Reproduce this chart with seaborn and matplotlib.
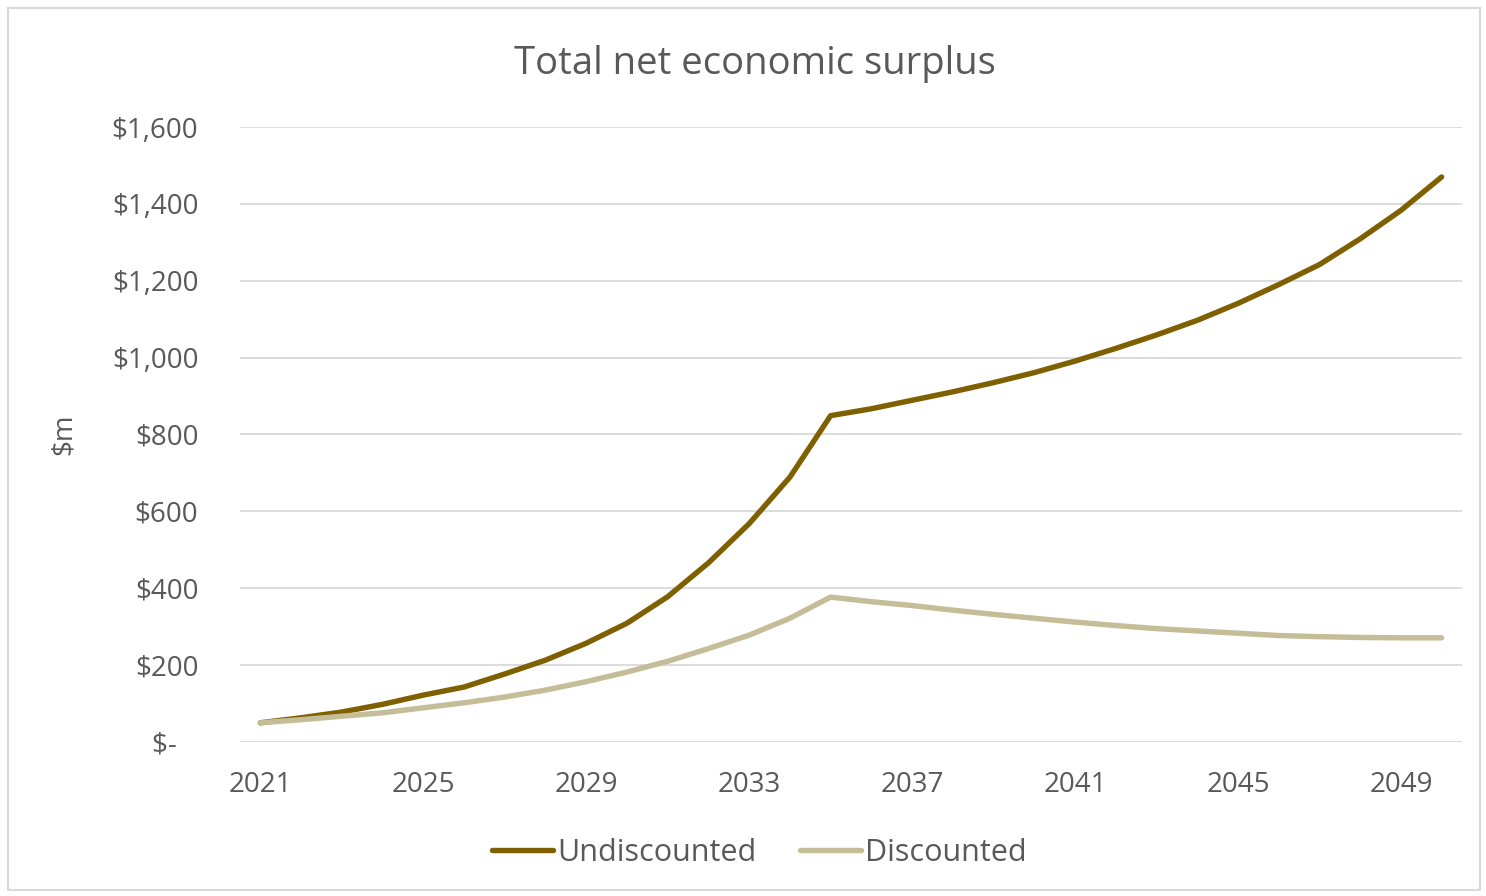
"""Total net economic surplus — undiscounted vs discounted ($m), 2021-2050"""

import numpy as np
import pandas as pd
import matplotlib.pyplot as plt
import seaborn as sns
from matplotlib.patches import Rectangle
from matplotlib.ticker import FuncFormatter


years = list(range(2021, 2051))

undiscounted = [50, 63, 78, 98, 122, 143, 177, 213, 257, 309,
                378, 466, 568, 689, 849, 867, 889, 911, 935, 961,
                991, 1024, 1059, 1097, 1141, 1190, 1242, 1309, 1383, 1470]

discounted = [50, 58, 67, 76, 89, 102, 117, 135, 157, 182,
              210, 243, 278, 322, 377, 365, 355, 343, 332, 322,
              312, 303, 295, 289, 283, 277, 274, 272, 271, 271]

series_names = ['Undiscounted', 'Discounted']
series_colors = ['#7F6000', '#C4BD97']
y_ticks = [0, 200, 400, 600, 800, 1000, 1200, 1400, 1600]
x_ticks = [2021, 2025, 2029, 2033, 2037, 2041, 2045, 2049]

TEXT = '#595959'
GRID = '#D9D9D9'


def money(v, pos):
    # Excel accounting style: zero shows as a dash, padded on the right
    if v == 0:
        return '$-   '
    return f'${v:,.0f}'


df = pd.DataFrame({
    'year': years * 2,
    'value': undiscounted + discounted,
    'series': [series_names[0]] * len(years) + [series_names[1]] * len(years),
})

sns.set_style('white')
plt.rcParams['font.family'] = ['Open Sans', 'DejaVu Sans']

fig = plt.figure(figsize=(14.86, 8.96), dpi=100)
ax = fig.add_axes([240 / 1486, 1 - 742 / 896, (1462 - 240) / 1486, (742 - 127) / 896])

# outer chart border like the Excel chart area
fig.patches.append(Rectangle((8 / 1486, 6 / 896), 1472 / 1486, 882 / 896,
                             transform=fig.transFigure, fill=False,
                             edgecolor=GRID, linewidth=1.5))

sns.lineplot(data=df, x='year', y='value', hue='series',
             palette=dict(zip(series_names, series_colors)),
             linewidth=3.9, ax=ax, legend=False,
             solid_capstyle='round', solid_joinstyle='round')

ax.set_xlim(2020.5, 2050.5)
ax.set_ylim(0, 1600)
ax.set_yticks(y_ticks)
ax.set_xticks(x_ticks)
ax.yaxis.set_major_formatter(FuncFormatter(money))
ax.grid(axis='y', color=GRID, linewidth=1.3)
ax.set_axisbelow(True)
for s in ax.spines.values():
    s.set_visible(False)
ax.tick_params(axis='both', length=0, labelsize=20, colors=TEXT)
ax.tick_params(axis='y', pad=30)
ax.tick_params(axis='x', pad=21)

ax.set_xlabel('')
ax.set_ylabel('$m', fontsize=20, color=TEXT)
ax.yaxis.set_label_coords(-0.1326, 0.5)

fig.text(0.508, 1 - 64 / 896, 'Total net economic surplus', ha='center', va='center',
         fontsize=27.5, color=TEXT)

handles = [plt.Line2D([], [], color=c, linewidth=3.9, solid_capstyle='round')
           for c in series_colors]
fig.legend(handles, series_names, loc='center', bbox_to_anchor=(0.511, 1 - 853 / 896),
           ncol=2, frameon=False, fontsize=22, labelcolor=TEXT,
           handlelength=2.0, handletextpad=0.15, columnspacing=1.4)

fig.savefig('out.png', dpi=100)
